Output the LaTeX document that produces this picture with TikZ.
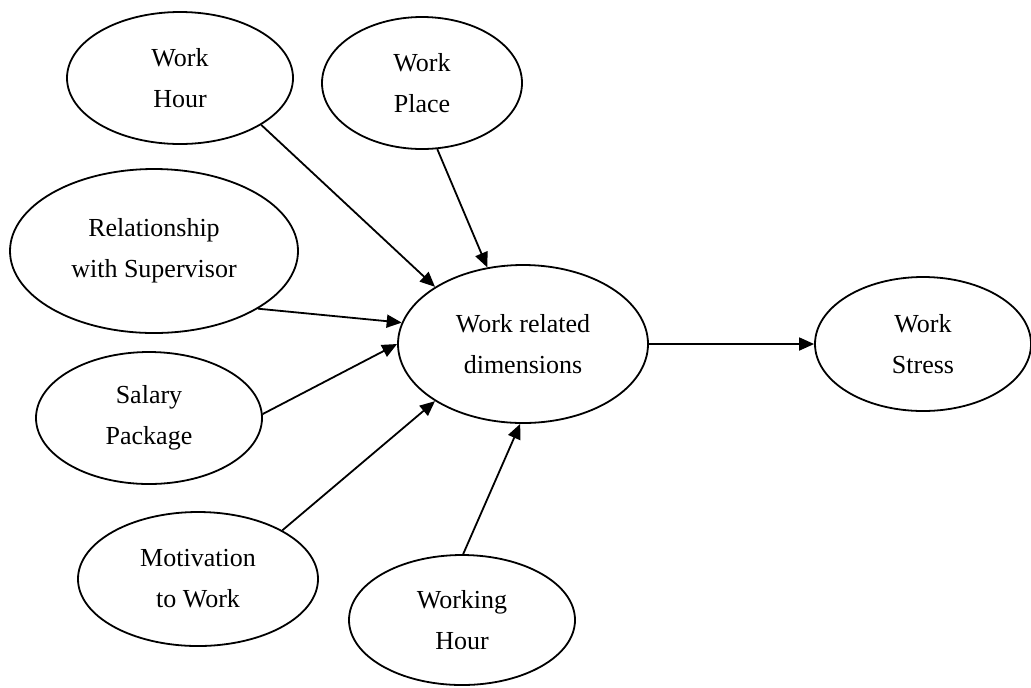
\documentclass[tikz,border=0pt]{standalone}
\usepackage{fontspec}
\setmainfont{Liberation Serif}
\usetikzlibrary{arrows.meta,shapes.geometric}

\tikzset{
  dim/.style={ellipse,draw,line width=0.9pt,inner sep=0pt,align=center,
    font=\fontsize{13}{20.5}\selectfont},
  link/.style={line width=0.9pt,-{Triangle[length=7.5pt,width=6.5pt]}}
}

\begin{document}
\begin{tikzpicture}[x=0.5pt,y=-0.5pt]

\useasboundingbox (0,0) rectangle (1031,687);

% factors on the left
\node[dim,minimum width=113pt,minimum height=66pt] (whour) at (180,78) {Work\\Hour};
\node[dim,minimum width=100pt,minimum height=66pt] (wplace) at (422,83) {Work\\Place};
\node[dim,minimum width=144pt,minimum height=82pt] (rel) at (154,251) {Relationship\\with Supervisor};
\node[dim,minimum width=113pt,minimum height=66pt] (salary) at (149,418) {Salary\\Package};
\node[dim,minimum width=120pt,minimum height=67pt] (motiv) at (198,579) {Motivation\\to Work};
\node[dim,minimum width=113pt,minimum height=65pt] (working) at (462,620) {Working\\Hour};

% middle and outcome
\node[dim,minimum width=125pt,minimum height=79pt] (dims) at (523,344) {Work related\\dimensions};
\node[dim,minimum width=108pt,minimum height=67pt] (stress) at (923,344) {Work\\Stress};

\draw[link] (whour.-30) -- (dims.147);
\draw[link] (wplace.-77) -- (dims.115);
\draw[link] (rel.-29) -- (dims.170);
\draw[link] (salary.2) -- (dims.180);
\draw[link] (motiv.30) -- (dims.213);
\draw[link] (working.89) -- (dims.268);

\draw[link] (dims.east) -- (stress.west);

\end{tikzpicture}
\end{document}
